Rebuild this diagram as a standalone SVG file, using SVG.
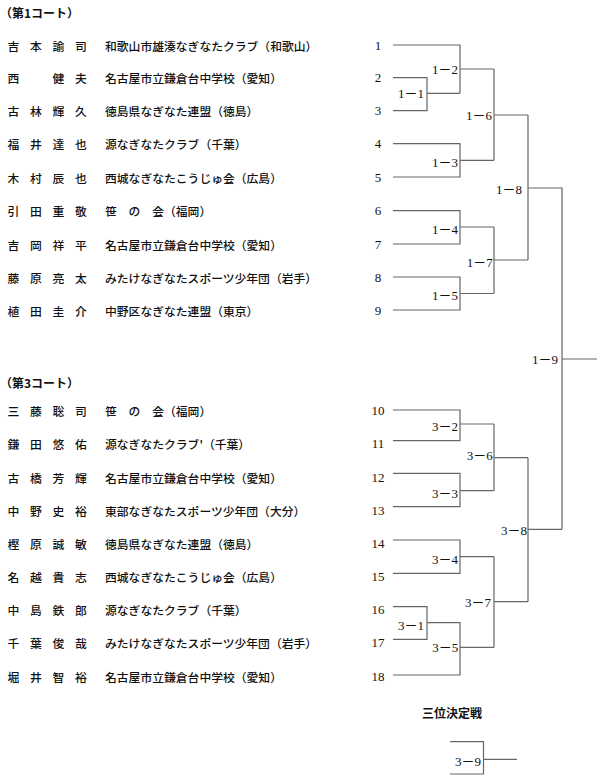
<svg xmlns="http://www.w3.org/2000/svg" width="600" height="777" viewBox="0 0 600 777">
<style>
.bg{fill:#fff}
.jp{font-family:"Noto Sans CJK JP","Noto Sans CJK SC",sans-serif;font-size:11.8px;font-weight:500;fill:#111;dominant-baseline:central}
.hd{font-family:"Noto Sans CJK JP","Noto Sans CJK SC",sans-serif;font-size:12px;font-weight:bold;fill:#111;dominant-baseline:central}
.num{font-family:"Liberation Serif",serif;font-size:13px;fill:#111;text-anchor:middle}
.lbl{font-family:"Liberation Serif","Noto Sans CJK JP",serif;font-size:13px;fill:#111;text-anchor:end}
.ln{fill:none;stroke:#666;stroke-width:1.2}
</style>
<rect class="bg" x="0" y="0" width="600" height="777"/>

<g id="heading-court1"><text class="hd" x="0" y="12">（第1コート）</text></g>
<g id="heading-court3"><text class="hd" x="0" y="382">（第3コート）</text></g>
<g id="heading-third"><text class="hd" x="422" y="712">三位決定戦</text></g>

<g id="p1"><text class="jp" x="7.5 30 52.5 75" y="45">吉本諭司</text><text class="jp" x="105" y="45">和歌山市雄湊なぎなたクラブ（和歌山）</text><text class="num" x="378" y="49.5">1</text></g>
<g id="p2"><text class="jp" x="7.5 52.5 75" y="77.7">西健夫</text><text class="jp" x="105" y="77.7">名古屋市立鎌倉台中学校（愛知）</text><text class="num" x="378" y="82.2">2</text></g>
<g id="p3"><text class="jp" x="7.5 30 52.5 75" y="110.7">古林輝久</text><text class="jp" x="105" y="110.7">徳島県なぎなた連盟（徳島）</text><text class="num" x="378" y="115.2">3</text></g>
<g id="p4"><text class="jp" x="7.5 30 52.5 75" y="143.7">福井達也</text><text class="jp" x="105" y="143.7">源なぎなたクラブ（千葉）</text><text class="num" x="378" y="148.2">4</text></g>
<g id="p5"><text class="jp" x="7.5 30 52.5 75" y="177">木村辰也</text><text class="jp" x="105" y="177">西城なぎなたこうじゅ会（広島）</text><text class="num" x="378" y="181.5">5</text></g>
<g id="p6"><text class="jp" x="7.5 30 52.5 75" y="210.7">引田重敬</text><text class="jp" x="105" y="210.7">笹　の　会（福岡）</text><text class="num" x="378" y="215.2">6</text></g>
<g id="p7"><text class="jp" x="7.5 30 52.5 75" y="244">吉岡祥平</text><text class="jp" x="105" y="244">名古屋市立鎌倉台中学校（愛知）</text><text class="num" x="378" y="248.5">7</text></g>
<g id="p8"><text class="jp" x="7.5 30 52.5 75" y="277">藤原亮太</text><text class="jp" x="105" y="277">みたけなぎなたスポーツ少年団（岩手）</text><text class="num" x="378" y="281.5">8</text></g>
<g id="p9"><text class="jp" x="7.5 30 52.5 75" y="310">植田圭介</text><text class="jp" x="105" y="310">中野区なぎなた連盟（東京）</text><text class="num" x="378" y="314.5">9</text></g>

<g id="p10"><text class="jp" x="7.5 30 52.5 75" y="410">三藤聡司</text><text class="jp" x="105" y="410">笹　の　会（福岡）</text><text class="num" x="378" y="414.5">10</text></g>
<g id="p11"><text class="jp" x="7.5 30 52.5 75" y="443">鎌田悠佑</text><text class="jp" x="105" y="443">源なぎなたクラブ'（千葉）</text><text class="num" x="378" y="447.5">11</text></g>
<g id="p12"><text class="jp" x="7.5 30 52.5 75" y="477">古橋芳輝</text><text class="jp" x="105" y="477">名古屋市立鎌倉台中学校（愛知）</text><text class="num" x="378" y="481.5">12</text></g>
<g id="p13"><text class="jp" x="7.5 30 52.5 75" y="510">中野史裕</text><text class="jp" x="105" y="510">東部なぎなたスポーツ少年団（大分）</text><text class="num" x="378" y="514.5">13</text></g>
<g id="p14"><text class="jp" x="7.5 30 52.5 75" y="543">樫原誠敏</text><text class="jp" x="105" y="543">徳島県なぎなた連盟（徳島）</text><text class="num" x="378" y="547.5">14</text></g>
<g id="p15"><text class="jp" x="7.5 30 52.5 75" y="576">名越貴志</text><text class="jp" x="105" y="576">西城なぎなたこうじゅ会（広島）</text><text class="num" x="378" y="580.5">15</text></g>
<g id="p16"><text class="jp" x="7.5 30 52.5 75" y="609.3">中島鉄郎</text><text class="jp" x="105" y="609.3">源なぎなたクラブ（千葉）</text><text class="num" x="378" y="613.8">16</text></g>
<g id="p17"><text class="jp" x="7.5 30 52.5 75" y="642.7">千葉俊哉</text><text class="jp" x="105" y="642.7">みたけなぎなたスポーツ少年団（岩手）</text><text class="num" x="378" y="647.2">17</text></g>
<g id="p18"><text class="jp" x="7.5 30 52.5 75" y="676.7">堀井智裕</text><text class="jp" x="105" y="676.7">名古屋市立鎌倉台中学校（愛知）</text><text class="num" x="378" y="681.2">18</text></g>

<g id="m1-1"><text class="lbl" x="424" y="97.8">1－1</text></g>
<g id="m1-2"><text class="lbl" x="458" y="73.5">1－2</text></g>
<g id="m1-3"><text class="lbl" x="458" y="167.2">1－3</text></g>
<g id="m1-4"><text class="lbl" x="458" y="233.8">1－4</text></g>
<g id="m1-5"><text class="lbl" x="458" y="300.2">1－5</text></g>
<g id="m1-6"><text class="lbl" x="492" y="119.5">1－6</text></g>
<g id="m1-7"><text class="lbl" x="492.7" y="267.2">1－7</text></g>
<g id="m1-8"><text class="lbl" x="522" y="193.5">1－8</text></g>
<g id="m1-9"><text class="lbl" x="558" y="363.8">1－9</text></g>
<g id="m3-1"><text class="lbl" x="424" y="629.5">3－1</text></g>
<g id="m3-2"><text class="lbl" x="458" y="431.2">3－2</text></g>
<g id="m3-3"><text class="lbl" x="458" y="497.8">3－3</text></g>
<g id="m3-4"><text class="lbl" x="458" y="563.8">3－4</text></g>
<g id="m3-5"><text class="lbl" x="458.3" y="651.8">3－5</text></g>
<g id="m3-6"><text class="lbl" x="492.7" y="459.5">3－6</text></g>
<g id="m3-7"><text class="lbl" x="491" y="606.8">3－7</text></g>
<g id="m3-8"><text class="lbl" x="527" y="534.5">3－8</text></g>
<g id="m3-9"><text class="lbl" x="481" y="765.5">3－9</text></g>

<g id="connectors" class="ln">
<path d="M393,45H460V93.3M393,77.7H427V110.7H393M427,93.3H460M460,69H494"/>
<path d="M393,143.7H460V177H393M460,160.3H494M494,69V160.3M494,115H528"/>
<path d="M393,210.7H460V244H393M460,227H494"/>
<path d="M393,277H460V310H393M460,293.5H494M494,227V293.5M494,260H528"/>
<path d="M528,115V260M528,188H562V529.3M562,359H597"/>
<path d="M393,410H460V440.7H393M460,424H494"/>
<path d="M393,473.3H460V506.7H393M460,490.7H494M494,424V490.7M494,457.7H528"/>
<path d="M393,540H460V573.3H393M460,556.7H494"/>
<path d="M393,606.7H427V639.3H393M427,622.7H460V675H393M460,647.3H494M494,556.7V647.3M494,601.7H528"/>
<path d="M528,457.7V601.7M528,529.3H562"/>
<path d="M450,741.7H483.5V774H450M483.5,759.3H517"/>
</g>
</svg>
